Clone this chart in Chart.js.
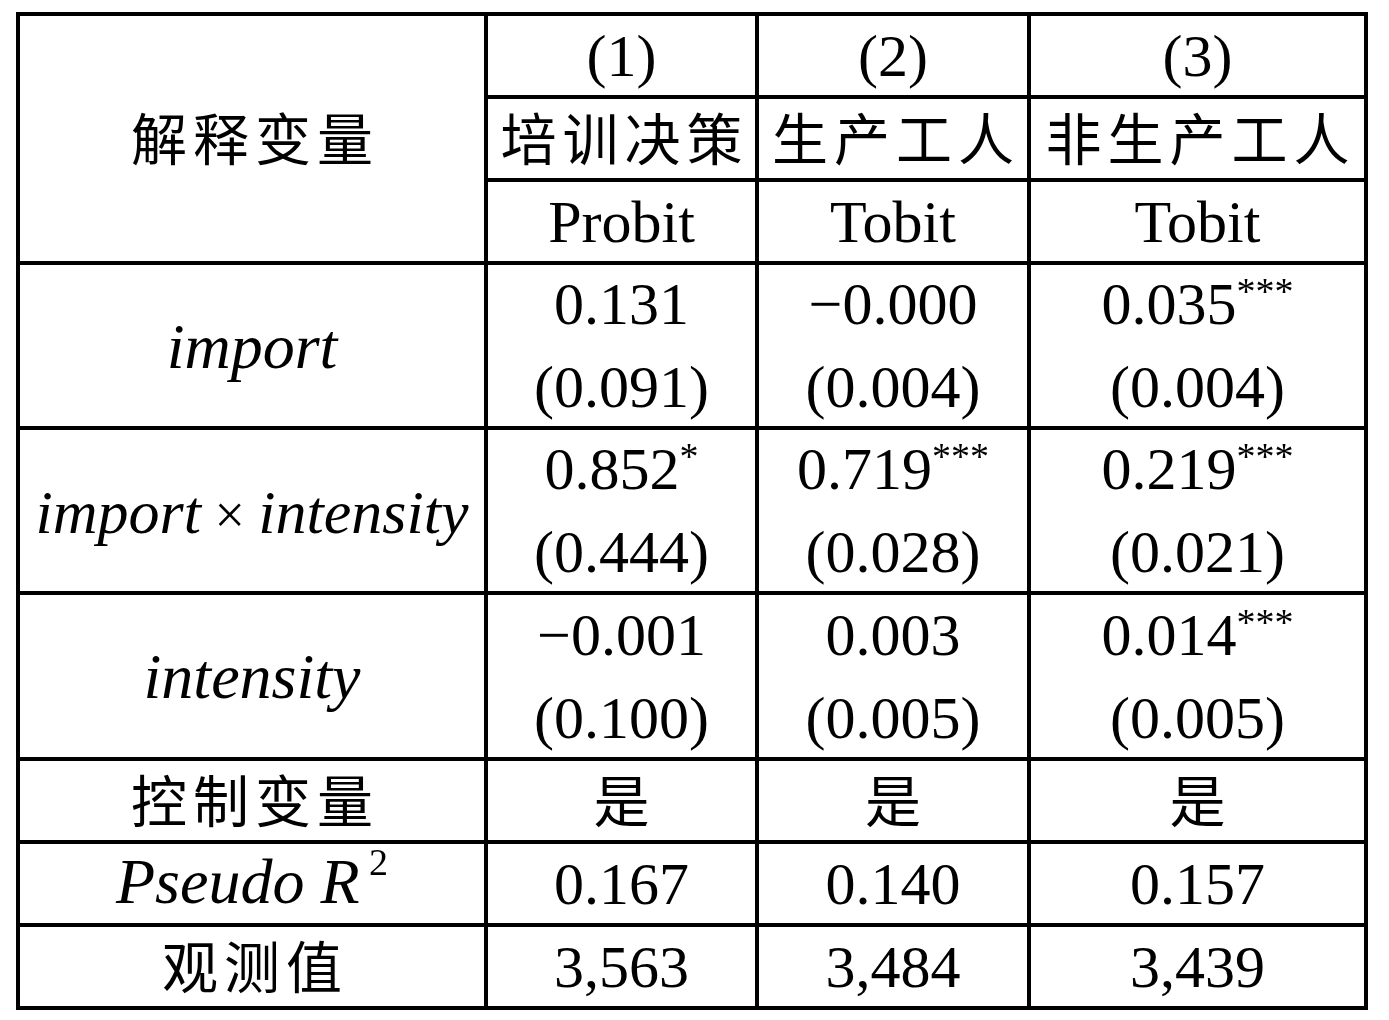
<!DOCTYPE html>
<html>
<head>
<meta charset="utf-8">
<script src="https://cdn.jsdelivr.net/npm/chart.js@4"></script>
<style>
  html, body { margin: 0; padding: 0; background: #fff; }
  #wrap { width: 1389px; height: 1020px; }
</style>
</head>
<body>
<div id="wrap"><canvas id="tableCanvas"></canvas></div>
<script>
// table content
var modelNums = ['(1)', '(2)', '(3)'];
var depVars = ['培训决策', '生产工人', '非生产工人'];
var estimators = ['Probit', 'Tobit', 'Tobit'];
var headLabel = '解释变量';
var varNames = ['import', 'import × intensity', 'intensity'];

var coefImport = ['0.131', '−0.000', '0.035'];
var seImport = ['0.091', '0.004', '0.004'];
var starsImport = ['', '', '***'];

var coefInter = ['0.852', '0.719', '0.219'];
var seInter = ['0.444', '0.028', '0.021'];
var starsInter = ['*', '***', '***'];

var coefIntensity = ['−0.001', '0.003', '0.014'];
var seIntensity = ['0.100', '0.005', '0.005'];
var starsIntensity = ['', '', '***'];

var footLabels = ['控制变量', 'Pseudo R', '观测值'];
var controls = ['是', '是', '是'];
var pseudoR2 = ['0.167', '0.140', '0.157'];
var nObs = ['3,563', '3,484', '3,439'];

// layout (table units)
var colEdges = [0, 468, 739, 1011, 1348];
var rowEdges = [0, 83, 166, 249, 414, 579, 745, 828, 911, 994];

var LATIN = '"Liberation Serif", "DejaVu Serif", serif';
var CJK = '"Noto Sans CJK SC", sans-serif';

function colMid(c) { return (colEdges[c] + colEdges[c + 1]) / 2; }
function mid(a, b) { return (a + b) / 2; }

function buildCells() {
    var cells = [];
    cells.push({ x: colMid(0), y: mid(rowEdges[0], rowEdges[3]), text: headLabel, kind: 'cjk' });
    for (var c = 0; c < 3; c++) {
        cells.push({ x: colMid(c + 1), y: mid(rowEdges[0], rowEdges[1]), text: modelNums[c], kind: 'num' });
        cells.push({ x: colMid(c + 1), y: mid(rowEdges[1], rowEdges[2]), text: depVars[c], kind: 'cjk' });
        cells.push({ x: colMid(c + 1), y: mid(rowEdges[2], rowEdges[3]), text: estimators[c], kind: 'num' });
    }

    var coefRows = [
        [coefImport, seImport, starsImport],
        [coefInter, seInter, starsInter],
        [coefIntensity, seIntensity, starsIntensity]
    ];
    for (var r = 0; r < 3; r++) {
        var rTop = rowEdges[3 + r], rBot = rowEdges[4 + r];
        var rh = rBot - rTop;
        cells.push({ x: colMid(0), y: mid(rTop, rBot) + 6, text: varNames[r], kind: 'ital' });
        for (var k = 0; k < 3; k++) {
            cells.push({ x: colMid(k + 1), y: rTop + rh * 0.25, text: coefRows[r][0][k], stars: coefRows[r][2][k], kind: 'num' });
            cells.push({ x: colMid(k + 1), y: rTop + rh * 0.75, text: '(' + coefRows[r][1][k] + ')', kind: 'num' });
        }
    }

    var footVals = [controls, pseudoR2, nObs];
    var footKinds = ['cjk', 'ital', 'cjk'];
    for (var f = 0; f < 3; f++) {
        var ym = mid(rowEdges[6 + f], rowEdges[7 + f]);
        cells.push({ x: colMid(0), y: ym + (f === 1 ? 3 : 0), text: footLabels[f], kind: footKinds[f], sup: f === 1 ? '2' : '' });
        for (var j = 0; j < 3; j++) {
            cells.push({ x: colMid(j + 1), y: ym, text: footVals[f][j], kind: f === 0 ? 'cjk' : 'num' });
        }
    }
    return cells;
}

function drawCjk(ctx, text, x, y) {
    var pitch = 62;
    ctx.font = '56px ' + CJK;
    ctx.textAlign = 'center';
    ctx.textBaseline = 'middle';
    var chars = Array.from(text);
    var start = x - (chars.length - 1) * pitch / 2;
    for (var i = 0; i < chars.length; i++) {
        ctx.fillText(chars[i], start + i * pitch, y);
    }
}

function drawParts(ctx, parts, x, y) {
    var total = 0;
    parts.forEach(function (p) {
        ctx.font = p.font;
        p.w = ctx.measureText(p.text).width;
        total += p.w;
    });
    var cx = x - total / 2;
    ctx.textAlign = 'left';
    ctx.textBaseline = 'alphabetic';
    parts.forEach(function (p) {
        ctx.font = p.font;
        ctx.fillText(p.text, cx, y + (p.dy || 0));
        cx += p.w;
    });
}

var tablePlugin = {
    id: 'tableGrid',
    afterDatasetsDraw: function (chart) {
        var ctx = chart.ctx;
        var xs = chart.scales.x, ys = chart.scales.y;
        ctx.save();
        ctx.strokeStyle = '#000';
        ctx.lineWidth = 4;
        ctx.lineCap = 'square';
        // horizontal lines
        rowEdges.forEach(function (ry, i) {
            var x0 = (i === 1 || i === 2) ? colEdges[1] : colEdges[0];
            ctx.beginPath();
            ctx.moveTo(xs.getPixelForValue(x0), ys.getPixelForValue(ry));
            ctx.lineTo(xs.getPixelForValue(colEdges[4]), ys.getPixelForValue(ry));
            ctx.stroke();
        });
        colEdges.forEach(function (cx) {
            ctx.beginPath();
            ctx.moveTo(xs.getPixelForValue(cx), ys.getPixelForValue(rowEdges[0]));
            ctx.lineTo(xs.getPixelForValue(cx), ys.getPixelForValue(rowEdges[9]));
            ctx.stroke();
        });

        // cell texts
        ctx.fillStyle = '#000';
        var meta = chart.getDatasetMeta(0);
        var data = chart.data.datasets[0].data;
        meta.data.forEach(function (el, i) {
            var d = data[i];
            var px = el.x, py = el.y;
            if (d.kind === 'cjk') {
                drawCjk(ctx, d.text, px, py);
            } else if (d.kind === 'num') {
                var parts = [{ text: d.text, font: '60px ' + LATIN }];
                if (d.stars) parts.push({ text: d.stars, font: '38px ' + LATIN, dy: -20 });
                drawParts(ctx, parts, px, py + 20);
            } else if (d.kind === 'ital') {
                var it = 'italic 64px ' + LATIN;
                var parts2;
                if (d.text.indexOf('×') >= 0) {
                    it = 'italic 62px ' + LATIN;
                    var bits = d.text.split('×');
                    parts2 = [
                        { text: bits[0].trim(), font: it },
                        { text: ' × ', font: '54px ' + LATIN },
                        { text: bits[1].trim(), font: it }
                    ];
                } else {
                    parts2 = [{ text: d.text, font: it }];
                }
                if (d.sup) parts2.push({ text: ' ' + d.sup, font: '38px ' + LATIN, dy: -28 });
                drawParts(ctx, parts2, px, py + 16);
            }
        });
        ctx.restore();
    }
};

var chartdata = {
    datasets: [
        {
            label: 'cells',
            data: buildCells(),
            pointRadius: 0,
            pointHoverRadius: 0
        }
    ]
};

var tableChart = new Chart(document.getElementById('tableCanvas'), {
    type: 'scatter',
    data: chartdata,
    options: {
        responsive: true,
        maintainAspectRatio: false,
        animation: false,
        layout: { padding: { left: 18, right: 23, top: 14, bottom: 12 } },
        plugins: { legend: { display: false }, tooltip: { enabled: false } },
        scales: {
            x: { type: 'linear', display: false, min: 0, max: 1348 },
            y: { type: 'linear', display: false, min: 0, max: 994, reverse: true }
        }
    },
    plugins: [tablePlugin]
});
</script>
</body>
</html>
